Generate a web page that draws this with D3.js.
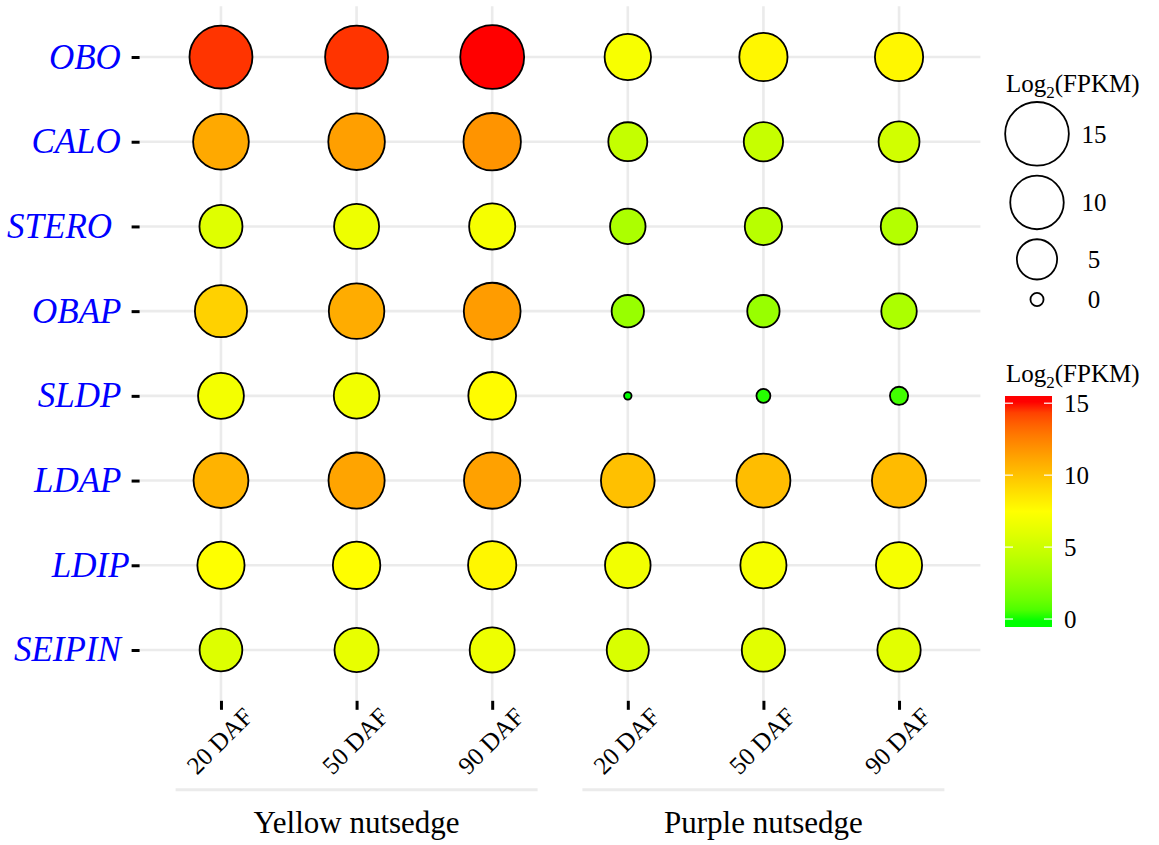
<!DOCTYPE html>
<html>
<head>
<meta charset="utf-8">
<script src="https://cdn.jsdelivr.net/npm/d3@7"></script>
<style>
  body { margin: 0; background: #fff; }
  svg, svg text, svg tspan { font-family: "Liberation Serif", "Times New Roman", Times, serif !important; }
</style>
</head>
<body>
<svg id="chart" width="1159" height="845" font-family="Liberation Serif, Times New Roman, serif"></svg>
<script>
// Genes (rows, top to bottom) and the label text shown on the axis
const genes = ["OBO", "CALO", "STERO", "OBAP", "SLDP", "LDAP", "LDIP", "SEIPIN"];
const geneLabels = ["OBO ", "CALO ", "STERO  ", "OBAP ", "SLDP ", "LDAP ", "LDIP", "SEIPIN "];

// Species groups and sampling stages (columns)
const species = ["Yellow nutsedge", "Purple nutsedge"];
const stages = ["20 DAF", "50 DAF", "90 DAF"];

// Log2(FPKM) per gene, columns = 20 / 50 / 90 DAF
const yellowLog2 = [
  [14.6, 14.6, 15.1],   // OBO
  [11.0, 11.4, 11.8],   // CALO
  [5.9, 6.6, 7.0],      // STERO
  [9.4, 10.9, 11.5],    // OBAP
  [6.9, 6.8, 7.6],      // SLDP
  [10.6, 11.2, 11.3],   // LDAP
  [7.4, 7.5, 7.8],      // LDIP
  [5.8, 6.3, 6.6]       // SEIPIN
];
const purpleLog2 = [
  [7.1, 7.8, 7.8],      // OBO
  [4.6, 4.7, 5.2],      // CALO
  [3.6, 4.1, 3.9],      // STERO
  [2.8, 2.8, 3.6],      // OBAP
  [-0.15, 0.05, 0.4],   // SLDP
  [10.1, 10.2, 10.3],   // LDAP
  [6.8, 7.0, 7.0],      // LDIP
  [5.6, 6.0, 6.0]       // SEIPIN
];
const seriesValues = [yellowLog2, purpleLog2];

// Legend breaks
const sizeBreaks = [15, 10, 5, 0];
const colorBreaks = [0, 5, 10, 15];

// ---------------------------------------------------------------------------
const FONT = "Liberation Serif, Times New Roman, serif";
const svg = d3.select("#chart");
const W = 1159, H = 845;
svg.append("rect").attr("width", W).attr("height", H).attr("fill", "#fff");

const panel = { left: 139.6, right: 980.4, top: 6.2, bottom: 700.8 };

const colKeys = species.flatMap(s => stages.map(st => s + "|" + st));
const x = d3.scalePoint().domain(colKeys).range([panel.left, panel.right]).padding(0.6);
const y = d3.scalePoint().domain(genes).range([panel.top, panel.bottom]).padding(0.6);

const records = [];
species.forEach((s, si) => {
  genes.forEach((g, gi) => {
    stages.forEach((st, ti) => {
      records.push({ key: s + "|" + st, gene: g, value: seriesValues[si][gi][ti] });
    });
  });
});

const allVals = records.map(d => d.value);
const vmin = d3.min(allVals), vmax = d3.max(allVals);

// green -> yellow -> red, interpolated in Lab
const color = d3.scaleLinear()
  .domain([vmin, (vmin + vmax) / 2, vmax])
  .range(["#00FF00", "#FFFF00", "#FF0000"])
  .interpolate(d3.interpolateLab)
  .clamp(true);

// point area grows linearly with value above the minimum
const strokeW = 1.8;
const rScale = d3.scaleSqrt().domain([0, vmax - vmin]).range([3.75, 31.95]).clamp(true);
const radius = v => rScale(Math.max(0, v - vmin));

// Grid
const grid = svg.append("g").attr("stroke", "#EBEBEB").attr("stroke-width", 2.6);
grid.selectAll("line.h").data(genes).join("line").attr("class", "h")
  .attr("x1", panel.left).attr("x2", panel.right)
  .attr("y1", d => y(d)).attr("y2", d => y(d));
grid.selectAll("line.v").data(colKeys).join("line").attr("class", "v")
  .attr("x1", d => x(d)).attr("x2", d => x(d))
  .attr("y1", panel.top).attr("y2", panel.bottom);

// Y axis (gene names in italics)
const gy = svg.append("g").attr("transform", `translate(${panel.left},0)`)
  .call(d3.axisLeft(y).tickSize(8).tickPadding(2).tickFormat(d => geneLabels[genes.indexOf(d)]))
  .attr("font-family", FONT);
gy.select(".domain").remove();
gy.selectAll(".tick line").attr("stroke", "#000").attr("stroke-width", 3);
gy.selectAll(".tick text")
  .attr("font-family", FONT)
  .attr("font-style", "italic")
  .attr("fill", "#0000FF").attr("font-size", 35)
  .attr("dy", 0).attr("y", 11)
  .style("white-space", "pre");

// X axis
const gx = svg.append("g").attr("transform", `translate(0,${panel.bottom})`)
  .call(d3.axisBottom(x).tickSize(9).tickFormat(d => d.split("|")[1]))
  .attr("font-family", FONT);
gx.select(".domain").remove();
gx.selectAll(".tick line").attr("stroke", "#000").attr("stroke-width", 3);
gx.selectAll(".tick text")
  .attr("font-family", FONT)
  .attr("fill", "#000").attr("font-size", 25)
  .attr("y", 0).attr("dy", "0.35em").attr("text-anchor", "middle")
  .attr("transform", "translate(-2,40) rotate(-45)");

// Species group labels with rule above
species.forEach(s => {
  const xs = stages.map(st => x(s + "|" + st));
  const cx = (d3.min(xs) + d3.max(xs)) / 2;
  svg.append("line")
    .attr("x1", cx - 181).attr("x2", cx + 181)
    .attr("y1", panel.bottom + 89).attr("y2", panel.bottom + 89)
    .attr("stroke", "#EBEBEB").attr("stroke-width", 3);
  svg.append("text").attr("x", cx).attr("y", panel.bottom + 132)
    .attr("font-family", FONT)
    .attr("text-anchor", "middle").attr("font-size", 31).attr("fill", "#000")
    .text(s);
});

// Points
svg.append("g").selectAll("circle").data(records).join("circle")
  .attr("cx", d => x(d.key)).attr("cy", d => y(d.gene))
  .attr("r", d => radius(d.value))
  .attr("fill", d => color(d.value))
  .attr("stroke", "#000").attr("stroke-width", strokeW);

// Legend title helper: Log2(FPKM) with subscript
function legendTitle(g, tx, ty) {
  const t = g.append("text").attr("x", tx).attr("y", ty)
    .attr("font-family", FONT).attr("font-size", 25).attr("fill", "#000");
  t.append("tspan").text("Log");
  t.append("tspan").attr("font-size", 17).attr("dy", 6).text("2");
  t.append("tspan").attr("dy", -6).text("(FPKM)");
}

// Size legend
const sizeLeg = svg.append("g");
legendTitle(sizeLeg, 1006, 92);
let cyPos = 102;
const sizeKeys = sizeBreaks.map(b => {
  const r = radius(b);
  const half = Math.max(r, 10);
  cyPos += half;
  const c = cyPos;
  cyPos += half + 10;
  return { b, r, c };
});
sizeLeg.selectAll("circle").data(sizeKeys).join("circle")
  .attr("cx", 1037).attr("cy", d => d.c).attr("r", d => d.r)
  .attr("fill", "none").attr("stroke", "#000").attr("stroke-width", strokeW);
sizeLeg.selectAll("text.lab").data(sizeKeys).join("text").attr("class", "lab")
  .attr("x", 1094).attr("y", d => d.c).attr("dy", "0.35em")
  .attr("font-family", FONT)
  .attr("text-anchor", "middle").attr("font-size", 25).attr("fill", "#000")
  .text(d => d.b);

// Colour bar legend
const cbar = svg.append("g");
legendTitle(cbar, 1006, 382);
const barTop = 396, barBottom = 627, barX = 1005, barW = 47, inset = 5.8;
const cy = d3.scaleLinear().domain([vmin, vmax]).range([barBottom - inset, barTop + inset]);
const grad = svg.append("defs").append("linearGradient")
  .attr("id", "cbarGrad").attr("gradientUnits", "userSpaceOnUse")
  .attr("x1", 0).attr("x2", 0).attr("y1", cy(vmin)).attr("y2", cy(vmax));
d3.range(0, 21).forEach(k => {
  const v = vmin + (vmax - vmin) * k / 20;
  grad.append("stop").attr("offset", k / 20).attr("stop-color", color(v));
});
cbar.append("rect").attr("x", barX).attr("y", barTop)
  .attr("width", barW).attr("height", barBottom - barTop).attr("fill", "url(#cbarGrad)");
colorBreaks.forEach(b => {
  [[barX, barX + 8], [barX + barW - 8, barX + barW]].forEach(([a, c]) => {
    cbar.append("line").attr("x1", a).attr("x2", c).attr("y1", cy(b)).attr("y2", cy(b))
      .attr("stroke", "#fff").attr("stroke-opacity", 0.85).attr("stroke-width", 1.4);
  });
  cbar.append("text").attr("x", 1064).attr("y", cy(b)).attr("dy", "0.35em")
    .attr("font-family", FONT)
    .attr("font-size", 25).attr("fill", "#000").text(b);
});
</script>
</body>
</html>
